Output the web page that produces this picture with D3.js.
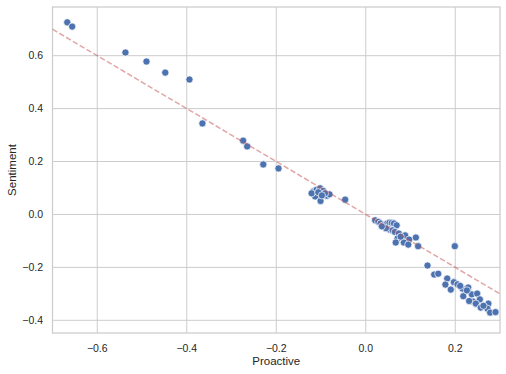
<!DOCTYPE html>
<html>
<head>
<meta charset="utf-8">
<script src="https://cdn.jsdelivr.net/npm/d3@7"></script>
<style>
  body { margin: 0; background: #fff; }
  svg { display: block; font-family: "Liberation Sans", Arial, sans-serif; }
</style>
</head>
<body>
<svg id="chart" width="506" height="374"></svg>
<script>
const proactive = [
  -0.667, -0.656, -0.537, -0.490, -0.448, -0.394, -0.365, -0.274, -0.265, -0.229, -0.195,
  -0.117, -0.110, -0.102, -0.095, -0.104, -0.113, -0.101, -0.087, -0.081, -0.091, -0.121, -0.106, -0.098,
  -0.046,
  0.021, 0.028, 0.033, 0.039, 0.043, 0.048, 0.053, 0.058, 0.063, 0.069, 0.053, 0.060, 0.065, 0.074,
  0.088, 0.071, 0.097, 0.112, 0.085, 0.067, 0.095, 0.117, 0.045, 0.036, 0.078,
  0.199, 0.138, 0.153, 0.162, 0.182, 0.178, 0.190, 0.197, 0.205, 0.216, 0.218, 0.229, 0.237, 0.226,
  0.249, 0.240, 0.255, 0.231, 0.246, 0.257, 0.274, 0.272, 0.278, 0.290, 0.211, 0.263
];
const sentiment = [
  0.726, 0.710, 0.612, 0.578, 0.536, 0.510, 0.344, 0.279, 0.257, 0.189, 0.174,
  0.087, 0.093, 0.099, 0.089, 0.076, 0.068, 0.051, 0.071, 0.076, 0.080, 0.080, 0.084, 0.072,
  0.056,
  -0.022, -0.028, -0.034, -0.041, -0.047, -0.034, -0.031, -0.032, -0.034, -0.041, -0.057, -0.060, -0.066, -0.072,
  -0.079, -0.091, -0.095, -0.087, -0.106, -0.106, -0.114, -0.120, -0.052, -0.045, -0.084,
  -0.120, -0.193, -0.227, -0.224, -0.242, -0.265, -0.284, -0.256, -0.264, -0.280, -0.309, -0.276, -0.302, -0.287,
  -0.299, -0.329, -0.321, -0.327, -0.337, -0.352, -0.337, -0.356, -0.371, -0.369, -0.270, -0.345
];
const xTicks = [-0.6, -0.4, -0.2, 0.0, 0.2];
const yTicks = [-0.4, -0.2, 0.0, 0.2, 0.4, 0.6];
const fitSlope = -1.0;
const fitIntercept = 0.0;

const svg = d3.select("#chart");
const plotLeft = 52.5, plotRight = 500, plotTop = 7, plotBottom = 333;

const x = d3.scaleLinear().domain([-0.7, 0.3]).range([plotLeft, plotRight]);
const y = d3.scaleLinear().domain([-0.448, 0.784]).range([plotBottom, plotTop]);

const fmt = d => d3.format(".1f")(d).replace("-", "\u2212");

// grid
svg.append("g").selectAll("line").data(xTicks).join("line")
  .attr("x1", d => x(d)).attr("x2", d => x(d))
  .attr("y1", plotTop).attr("y2", plotBottom)
  .attr("stroke", "#cccccc").attr("stroke-width", 1);
svg.append("g").selectAll("line").data(yTicks).join("line")
  .attr("x1", plotLeft).attr("x2", plotRight)
  .attr("y1", d => y(d)).attr("y2", d => y(d))
  .attr("stroke", "#cccccc").attr("stroke-width", 1);

// frame
svg.append("rect")
  .attr("x", plotLeft).attr("y", plotTop)
  .attr("width", plotRight - plotLeft).attr("height", plotBottom - plotTop)
  .attr("fill", "none").attr("stroke", "#cccccc").attr("stroke-width", 1.25);

// tick labels
svg.append("g").selectAll("text").data(xTicks).join("text")
  .attr("x", d => x(d)).attr("y", 351.5)
  .attr("text-anchor", "middle")
  .attr("font-size", 10.5).attr("fill", "#262626")
  .text(fmt);
svg.append("g").selectAll("text").data(yTicks).join("text")
  .attr("x", 43).attr("y", d => y(d) + 3.8)
  .attr("text-anchor", "end")
  .attr("font-size", 10.5).attr("fill", "#262626")
  .text(fmt);

// axis titles
svg.append("text")
  .attr("x", (plotLeft + plotRight) / 2).attr("y", 365)
  .attr("text-anchor", "middle")
  .attr("font-size", 11.5).attr("fill", "#262626")
  .text("Proactive");
svg.append("text")
  .attr("transform", `translate(16,${(plotTop + plotBottom) / 2}) rotate(-90)`)
  .attr("text-anchor", "middle")
  .attr("font-size", 11.5).attr("fill", "#262626")
  .text("Sentiment");

const plot = svg.append("g");
plot.append("clipPath").attr("id", "clip")
  .append("rect").attr("x", plotLeft).attr("y", plotTop)
  .attr("width", plotRight - plotLeft).attr("height", plotBottom - plotTop);

// points
plot.append("g").selectAll("circle")
  .data(proactive.map((p, i) => [p, sentiment[i]]))
  .join("circle")
  .attr("cx", d => x(d[0])).attr("cy", d => y(d[1]))
  .attr("r", 3.6)
  .attr("fill", "#4c72b0")
  .attr("stroke", "#ffffff").attr("stroke-width", 0.7);

// fitted line
const lineX = x.domain();
plot.append("line")
  .attr("clip-path", "url(#clip)")
  .attr("x1", x(lineX[0])).attr("y1", y(fitSlope * lineX[0] + fitIntercept))
  .attr("x2", x(lineX[1])).attr("y2", y(fitSlope * lineX[1] + fitIntercept))
  .attr("stroke", "#c44e52").attr("stroke-opacity", 0.5)
  .attr("stroke-width", 1.5).attr("stroke-dasharray", "5.5,2.4");
</script>
</body>
</html>
